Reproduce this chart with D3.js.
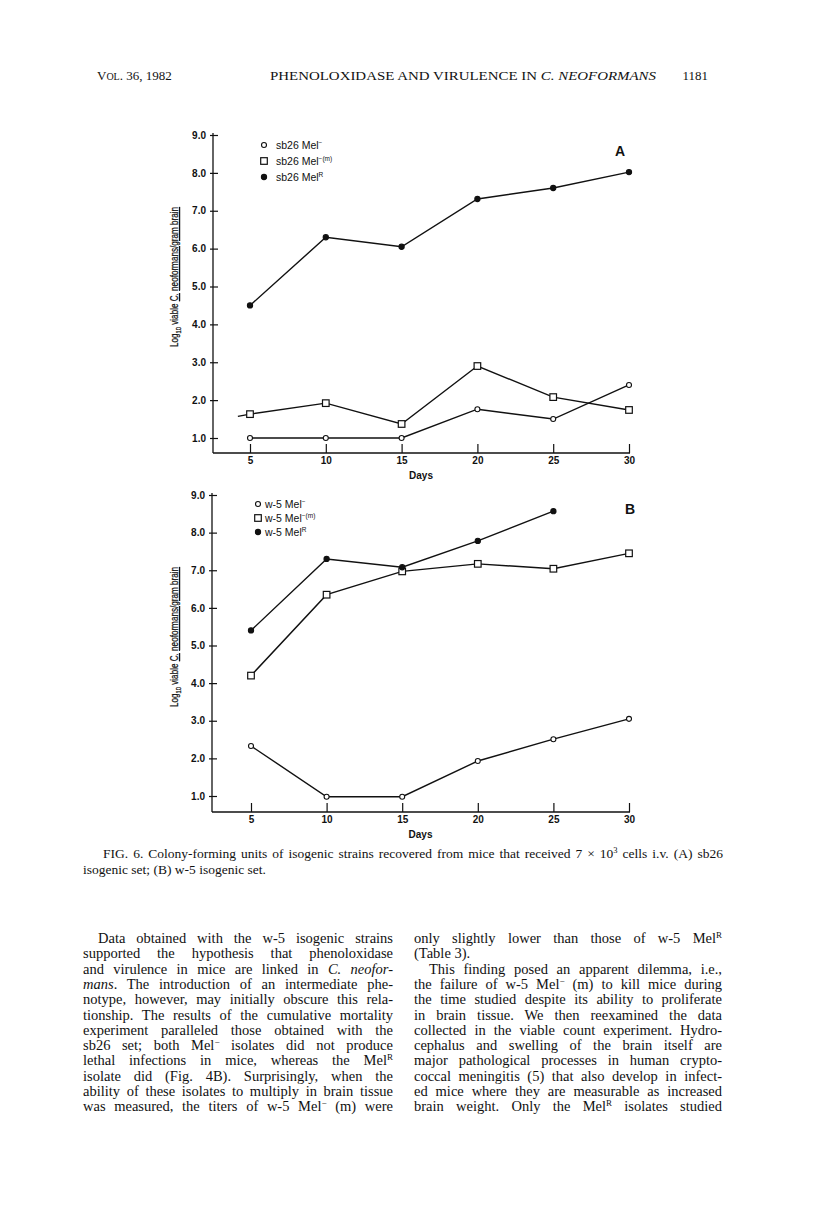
<!DOCTYPE html>
<html>
<head>
<meta charset="utf-8">
<script src="https://cdn.jsdelivr.net/npm/d3@7"></script>
<style>
body { margin: 0; background: #fff; }
svg { display: block; }
</style>
</head>
<body>
<script>
// values (log10 viable C. neoformans / gram brain)
var days = [5, 10, 15, 20, 25, 30];
var yTickValues = [1, 2, 3, 4, 5, 6, 7, 8, 9];

var aMelNeg = [1.0, 1.0, 1.0, 1.76, 1.5, 2.4];
var aMelNegM = [1.63, 1.92, 1.37, 2.9, 2.08, 1.74];
var aMelR = [4.5, 6.3, 6.05, 7.31, 7.6, 8.02];
// stray lead-in of the square line in panel A (no marker)
var aLeadDay = 4.2, aLeadValue = 1.57;

var bMelNeg = [2.33, 0.98, 0.98, 1.93, 2.51, 3.05];
var bMelNegM = [4.2, 6.35, 6.97, 7.17, 7.04, 7.45];
var bMelR = [5.4, 7.3, 7.08, 7.78, 8.57, null];

var legendA = ["sb26 Mel", "sb26 Mel", "sb26 Mel"];
var legendB = ["w-5 Mel", "w-5 Mel", "w-5 Mel"];
var legendSup = ["\u2212", "\u2212(m)", "R"];

var captionLines = [
	["FIG. 6. Colony-forming units of isogenic strains recovered from mice that received 7 \u00d7 10", {sup: "3"}, " cells i.v. (A) sb26"],
	["isogenic set; (B) w-5 isogenic set."]
];

var leftLines = [
	["Data obtained with the w-5 isogenic strains"],
	["supported the hypothesis that phenoloxidase"],
	["and virulence in mice are linked in ", {i: "C. neofor-"}],
	[{i: "mans"}, ". The introduction of an intermediate phe-"],
	["notype, however, may initially obscure this rela-"],
	["tionship. The results of the cumulative mortality"],
	["experiment paralleled those obtained with the"],
	["sb26 set; both Mel", {sup: "\u2212"}, " isolates did not produce"],
	["lethal infections in mice, whereas the Mel", {sup: "R"}],
	["isolate did (Fig. 4B). Surprisingly, when the"],
	["ability of these isolates to multiply in brain tissue"],
	["was measured, the titers of w-5 Mel", {sup: "\u2212"}, " (m) were"]
];
var rightLines = [
	["only slightly lower than those of w-5 Mel", {sup: "R"}],
	["(Table 3)."],
	["This finding posed an apparent dilemma, i.e.,"],
	["the failure of w-5 Mel", {sup: "\u2212"}, " (m) to kill mice during"],
	["the time studied despite its ability to proliferate"],
	["in brain tissue. We then reexamined the data"],
	["collected in the viable count experiment. Hydro-"],
	["cephalus and swelling of the brain itself are"],
	["major pathological processes in human crypto-"],
	["coccal meningitis (5) that also develop in infect-"],
	["ed mice where they are measurable as increased"],
	["brain weight. Only the Mel", {sup: "R"}, " isolates studied"]
];

var ink = "#111";
var sans = "'Liberation Sans', Arial, sans-serif";
var serif = "'Liberation Serif', 'Times New Roman', serif";

var svg = d3.select("body").append("svg")
	.attr("width", 816).attr("height", 1206);

// writes plain / italic / superscript pieces into a text node
function addSegments(text, segs, supSize) {
	var shift = 0;
	segs.forEach(function(s) {
		var t = text.append("tspan");
		if (typeof s === "string") {
			t.text(s);
			if (shift) { t.attr("dy", -shift); shift = 0; }
		} else if (s.i) {
			t.text(s.i).attr("font-style", "italic");
			if (shift) { t.attr("dy", -shift); shift = 0; }
		} else if (s.sup) {
			t.text(s.sup).attr("font-size", supSize).attr("dy", -5);
			shift = -5;
		}
	});
}

// spread words so a line fills the column width (squeeze if too long)
function justify(text, width) {
	var node = text.node();
	var w = node.getComputedTextLength();
	var str = node.textContent;
	var gaps = (str.trim().match(/ +/g) || []).length;
	if (w > width) {
		text.attr("textLength", width).attr("lengthAdjust", "spacingAndGlyphs");
	} else if (gaps > 0) {
		text.attr("word-spacing", (width - w) / gaps);
	}
}

function drawPanel(o) {
	var g = svg.append("g");
	var x = d3.scaleLinear().domain([5, 30]).range([o.x0, o.x1]);
	var y = d3.scaleLinear().domain([1, 9]).range([o.y1, o.y9]);

	// axis lines
	g.append("line").attr("x1", o.axisX).attr("x2", o.axisX)
		.attr("y1", o.y9 - 2).attr("y2", o.baseY)
		.attr("stroke", ink).attr("stroke-width", 1.3);
	g.append("line").attr("x1", o.axisX).attr("x2", o.x1 + 1)
		.attr("y1", o.baseY).attr("y2", o.baseY)
		.attr("stroke", ink).attr("stroke-width", 1.3);

	var yAxis = g.append("g")
		.attr("transform", "translate(" + (o.axisX - 3) + ",0)")
		.call(d3.axisLeft(y).tickValues(yTickValues).tickSize(-8).tickPadding(4)
			.tickFormat(d3.format(".1f")));
	yAxis.select(".domain").remove();
	yAxis.selectAll(".tick line").attr("stroke", ink).attr("stroke-width", 1.2);
	yAxis.selectAll(".tick text").attr("fill", ink)
		.attr("font-family", sans).attr("font-size", 10).attr("font-weight", "bold");

	var xAxis = g.append("g")
		.attr("transform", "translate(0," + o.baseY + ")")
		.call(d3.axisBottom(x).tickValues(days).tickSize(-9).tickPadding(4));
	xAxis.select(".domain").remove();
	xAxis.selectAll(".tick line").attr("stroke", ink).attr("stroke-width", 1.2);
	xAxis.selectAll(".tick text").attr("fill", ink)
		.attr("font-family", sans).attr("font-size", 10).attr("font-weight", "bold");

	g.append("text").attr("x", (o.axisX + o.x1) / 2).attr("y", o.baseY + 26)
		.attr("text-anchor", "middle").attr("font-family", sans)
		.attr("font-size", 10).attr("font-weight", "bold").attr("fill", ink)
		.text("Days");

	// rotated y label
	var lab = g.append("text")
		.attr("transform", "translate(" + o.labelX + "," + o.labelY + ") rotate(-90)")
		.attr("text-anchor", "middle").attr("font-family", sans)
		.attr("font-size", 10.5).attr("fill", ink)
		.attr("stroke", ink).attr("stroke-width", 0.25)
		.attr("textLength", 140).attr("lengthAdjust", "spacingAndGlyphs");
	lab.append("tspan").text("Log");
	lab.append("tspan").text("10").attr("font-size", 7.5).attr("dy", 3);
	lab.append("tspan").text(" viable ").attr("dy", -3);
	lab.append("tspan").text("C.").attr("text-decoration", "underline");
	lab.append("tspan").text(" ");
	lab.append("tspan").text("neoformans/gram brain").attr("text-decoration", "underline");

	// panel letter
	g.append("text").attr("x", o.letterX).attr("y", o.letterY)
		.attr("text-anchor", "middle").attr("font-family", sans)
		.attr("font-size", 14).attr("font-weight", "bold").attr("fill", ink)
		.text(o.letter);

	var line = d3.line()
		.defined(function(d) { return d.v != null; })
		.x(function(d) { return x(d.day); })
		.y(function(d) { return y(d.v); });

	var series = [
		{vals: o.neg, kind: "circle"},
		{vals: o.negM, kind: "square"},
		{vals: o.r, kind: "dot"}
	];

	series.forEach(function(s) {
		var pts = days.map(function(d, i) { return {day: d, v: s.vals[i]}; });
		if (s.kind === "square" && o.lead) pts.unshift(o.lead);
		g.append("path").datum(pts).attr("d", line)
			.attr("fill", "none").attr("stroke", ink).attr("stroke-width", 1.4);
		var marks = pts.filter(function(p) { return p.v != null && days.indexOf(p.day) >= 0; });
		drawMarks(g, marks.map(function(p) { return [x(p.day), y(p.v)]; }), s.kind);
	});

	// legend
	o.legend.forEach(function(name, i) {
		var ly = o.legY + i * o.legStep;
		drawMarks(g, [[o.legX, ly]], series[i].kind);
		var t = g.append("text").attr("x", o.legTextX).attr("y", ly + 3.5)
			.attr("font-family", sans).attr("font-size", 10.5).attr("fill", ink);
		t.append("tspan").text(name);
		t.append("tspan").text(legendSup[i]).attr("font-size", 6.5).attr("dy", -4);
	});
}

function drawMarks(g, pts, kind) {
	if (kind === "square") {
		g.selectAll(null).data(pts).enter().append("rect")
			.attr("x", function(p) { return p[0] - 3.3; })
			.attr("y", function(p) { return p[1] - 3.3; })
			.attr("width", 6.6).attr("height", 6.6)
			.attr("fill", "#fff").attr("stroke", ink).attr("stroke-width", 1.2);
	} else {
		g.selectAll(null).data(pts).enter().append("circle")
			.attr("cx", function(p) { return p[0]; })
			.attr("cy", function(p) { return p[1]; })
			.attr("r", kind === "dot" ? 2.6 : 2.5)
			.attr("fill", kind === "dot" ? ink : "#fff")
			.attr("stroke", ink).attr("stroke-width", 1.1);
	}
}

drawPanel({
	x0: 250, x1: 629, y1: 438, y9: 135, axisX: 213, baseY: 453,
	labelX: 178, labelY: 277, letter: "A", letterX: 620, letterY: 156,
	neg: aMelNeg, negM: aMelNegM, r: aMelR, lead: {day: aLeadDay, v: aLeadValue},
	legend: legendA, legX: 264, legTextX: 276, legY: 145, legStep: 16
});
drawPanel({
	x0: 251, x1: 629, y1: 796, y9: 495, axisX: 212, baseY: 812,
	labelX: 178, labelY: 637, letter: "B", letterX: 630, letterY: 514,
	neg: bMelNeg, negM: bMelNegM, r: bMelR, lead: null,
	legend: legendB, legX: 258, legTextX: 265, legY: 504, legStep: 14
});

// running head
var head = svg.append("g").attr("font-family", serif).attr("fill", ink).attr("font-size", 13);
var vol = head.append("text").attr("x", 97).attr("y", 80);
vol.append("tspan").text("V");
vol.append("tspan").text("OL").attr("font-size", 10);
vol.append("tspan").text(". 36, 1982");
var title = head.append("text").attr("x", 270).attr("y", 80)
	.attr("textLength", 386).attr("lengthAdjust", "spacingAndGlyphs");
title.append("tspan").text("PHENOLOXIDASE AND VIRULENCE IN ");
title.append("tspan").text("C. NEOFORMANS").attr("font-style", "italic");
head.append("text").attr("x", 708).attr("y", 80).attr("text-anchor", "end").text("1181");

// figure caption
var cap = svg.append("g").attr("font-family", serif).attr("fill", ink).attr("font-size", 13.5);
captionLines.forEach(function(segs, i) {
	var t = cap.append("text").attr("x", i === 0 ? 103 : 83).attr("y", 858 + i * 15.5);
	addSegments(t, segs, 8.5);
	if (i === 0) justify(t, 620);
});

// two text columns
function drawColumn(lines, x0, width, indents, ragged) {
	var col = svg.append("g").attr("font-family", serif).attr("fill", ink).attr("font-size", 14.5);
	lines.forEach(function(segs, i) {
		var ind = indents.indexOf(i) >= 0 ? 15 : 0;
		var t = col.append("text").attr("x", x0 + ind).attr("y", 943 + i * 15.3);
		addSegments(t, segs, 9);
		if (ragged.indexOf(i) < 0) justify(t, width - ind);
	});
}
drawColumn(leftLines, 83, 310, [0], []);
drawColumn(rightLines, 414, 308, [2], [1]);
</script>
</body>
</html>
